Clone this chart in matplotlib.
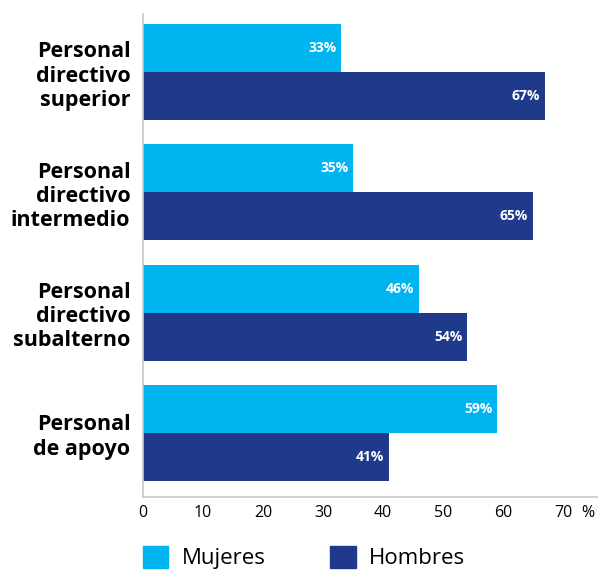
import matplotlib
matplotlib.use("Agg")
import matplotlib.pyplot as plt
from matplotlib.patches import Patch
import numpy as np

categories = ["Personal\ndirectivo\nsuperior", "Personal\ndirectivo\nintermedio",
              "Personal\ndirectivo\nsubalterno", "Personal\nde apoyo"]
mujeres = [33, 35, 46, 59]
hombres = [67, 65, 54, 41]
xticks = [0, 10, 20, 30, 40, 50, 60, 70]

c_muj = "#00b5ef"
c_hom = "#1f3a8a"

plt.rcParams["font.family"] = ["Open Sans", "DejaVu Sans"]

fig = plt.figure(figsize=(5.98, 5.70), dpi=100)
ax = fig.add_axes([143 / 598, 73 / 570, 455 / 598, 483 / 570])

y = np.arange(len(categories))
h = 0.4
b1 = ax.barh(y - h / 2, mujeres, height=h, color=c_muj, label="Mujeres")
b2 = ax.barh(y + h / 2, hombres, height=h, color=c_hom, label="Hombres")

for bars in (b1, b2):
    for rect in bars:
        w = rect.get_width()
        ax.text(w - 0.8, rect.get_y() + rect.get_height() / 2, f"{w:.0f}%",
                ha="right", va="center", color="white", fontsize=10,
                fontweight="bold")

ax.set_xlim(0, 455 / 6)
ax.set_ylim(len(categories) - 1 + 0.533, -0.483)
ax.set_yticks(y)
ax.set_yticklabels(categories, fontsize=15.5, fontweight="bold",
                   linespacing=1.2)
ax.set_xticks(xticks)
ax.set_xticklabels([str(t) for t in xticks], fontsize=11.5)
ax.tick_params(axis="both", length=0)
ax.tick_params(axis="y", pad=9)
ax.tick_params(axis="x", pad=6)
ax.annotate("%", xy=(74.2, 0), xycoords=ax.get_xaxis_transform(),
            xytext=(0, -6), textcoords="offset points",
            fontsize=11.5, ha="center", va="top")

for s in ("top", "right"):
    ax.spines[s].set_visible(False)
for s in ("left", "bottom"):
    ax.spines[s].set_color("#c8c8c8")
    ax.spines[s].set_linewidth(1.2)

fig.legend(handles=[Patch(color=c_muj, label="Mujeres"),
                    Patch(color=c_hom, label="Hombres")],
           loc="upper left", bbox_to_anchor=(134 / 598, 33 / 570), ncol=2,
           frameon=False, fontsize=16, handlelength=1.15, handleheight=1.15,
           columnspacing=2.9, handletextpad=0.6, borderaxespad=0)

fig.savefig("out.png", dpi=100)
